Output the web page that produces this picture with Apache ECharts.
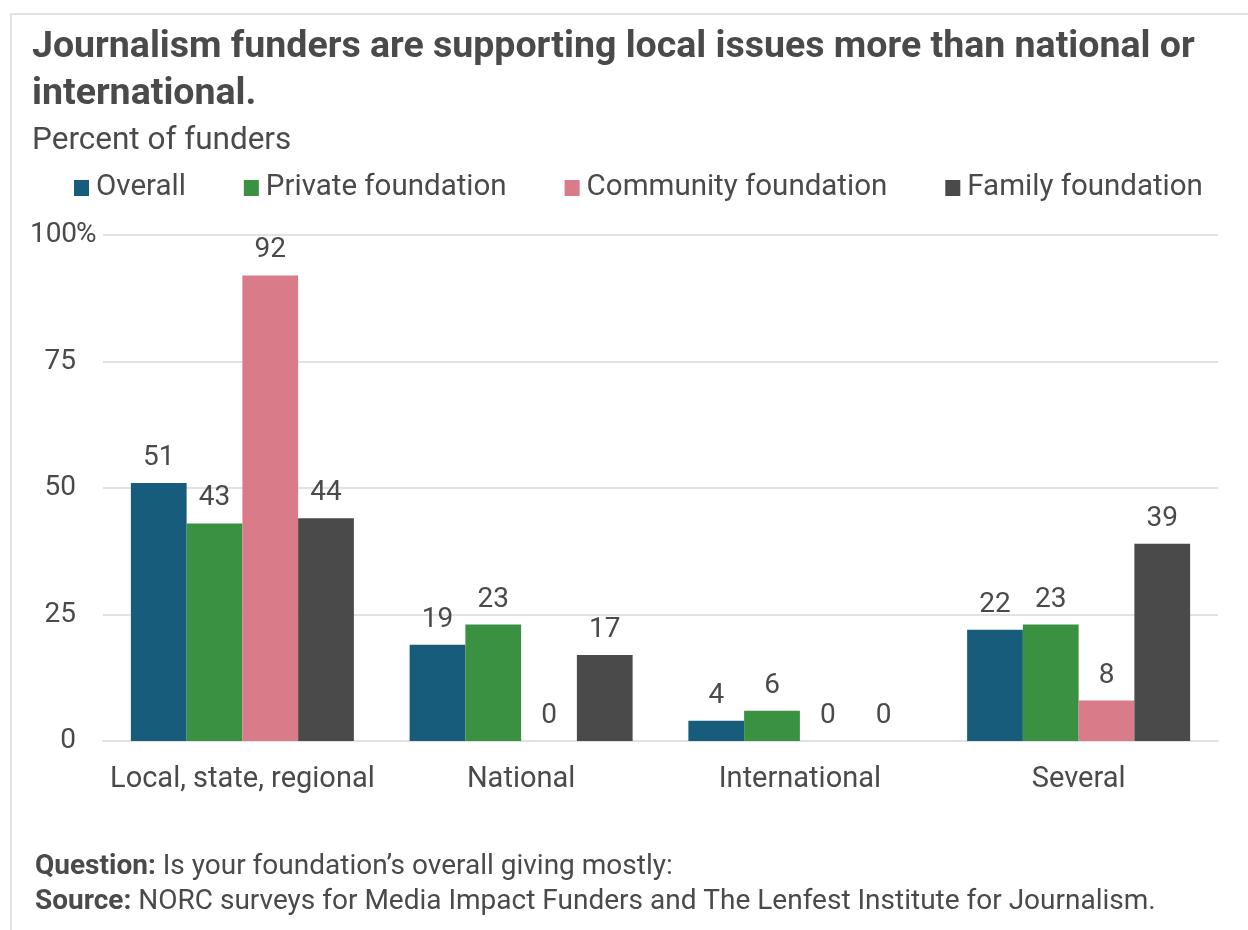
<!DOCTYPE html>
<html>
<head>
<meta charset="utf-8">
<title>Journalism funders by geographic focus</title>
<script src="https://cdn.jsdelivr.net/npm/echarts@6/dist/echarts.min.js"></script>
<style>
  html, body { margin: 0; padding: 0; background: #ffffff; }
  #frame {
    position: absolute; left: 10px; top: 13px; width: 1250px; height: 930px;
    border-left: 2px solid #e2e2e2; border-top: 2px solid #e2e2e2;
  }
  #chart { position: absolute; left: 0; top: 0; width: 1248px; height: 930px; }
</style>
</head>
<body>
<div id="frame"></div>
<div id="chart"></div>
<script>
// Geographic focus of giving, percent of funders
const categories = ['Local, state, regional', 'National', 'International', 'Several'];
const seriesNames = ['Overall', 'Private foundation', 'Community foundation', 'Family foundation'];
const overall = [51, 19, 4, 22];
const privateFoundation = [43, 23, 6, 23];
const communityFoundation = [92, 0, 0, 8];
const familyFoundation = [44, 17, 0, 39];
const yTicks = [0, 25, 50, 75, 100];

const colors = ['#185c7c', '#3a9142', '#d97b88', '#4a4a4a'];
const ink = '#4a4a4a';
const font = 'Roboto';

const chart = echarts.init(document.getElementById('chart'), null, { renderer: 'canvas' });
const values = [overall, privateFoundation, communityFoundation, familyFoundation];

chart.setOption({
  animation: false,
  color: colors,
  textStyle: { fontFamily: font, color: ink },
  title: [
    {
      text: 'Journalism funders are supporting local issues more than national or\ninternational.',
      left: 27, top: 19,
      textStyle: { fontFamily: font, fontWeight: 'bold', fontSize: 37.5, lineHeight: 47, color: ink }
    },
    {
      text: 'Percent of funders',
      left: 27, top: 120,
      textStyle: { fontFamily: font, fontWeight: 'normal', fontSize: 31.5, lineHeight: 32, color: ink }
    },
    {
      text: '{b|Question:} Is your foundation’s overall giving mostly:\n{b|Source:} NORC surveys for Media Impact Funders and The Lenfest Institute for Journalism.',
      left: 30, top: 844,
      textStyle: {
        fontFamily: font, fontWeight: 'normal', fontSize: 28, lineHeight: 35, color: ink,
        rich: { b: { fontFamily: font, fontWeight: 'bold', fontSize: 28, lineHeight: 35, color: ink } }
      }
    }
  ],
  legend: {
    left: 69, top: 168,
    itemWidth: 15, itemHeight: 16, itemGap: 58,
    icon: 'rect',
    textStyle: { fontFamily: font, fontSize: 29.5, color: ink, padding: [0, 0, 0, 2] },
    data: seriesNames
  },
  grid: { left: 103, right: 30, top: 235, bottom: 189 },
  xAxis: {
    type: 'category',
    data: categories,
    axisTick: { show: false },
    axisLine: { show: true, lineStyle: { color: '#e2e2e2', width: 2 } },
    axisLabel: { fontFamily: font, fontSize: 29, color: ink, margin: 24, interval: 0 }
  },
  yAxis: {
    type: 'value',
    min: yTicks[0], max: yTicks[yTicks.length - 1], interval: 25,
    axisLine: { show: false },
    axisTick: { show: false },
    splitLine: { lineStyle: { color: '#e2e2e2', width: 2 } },
    axisLabel: {
      fontFamily: font, fontSize: 28, color: ink, margin: 72, align: 'left',
      formatter: v => v === 100 ? '{n|100}%' : '{n|' + v + '}',
      rich: { n: { fontFamily: font, fontSize: 28, color: ink, width: 45, align: 'right' } }
    }
  },
  series: seriesNames.map((name, i) => ({
    name,
    type: 'bar',
    data: values[i],
    barGap: '0%',
    barCategoryGap: '20%',
    itemStyle: { color: colors[i] },
    label: {
      show: true, position: 'top', distance: 11,
      fontFamily: font, fontSize: 28, color: ink
    }
  }))
});
</script>
</body>
</html>
